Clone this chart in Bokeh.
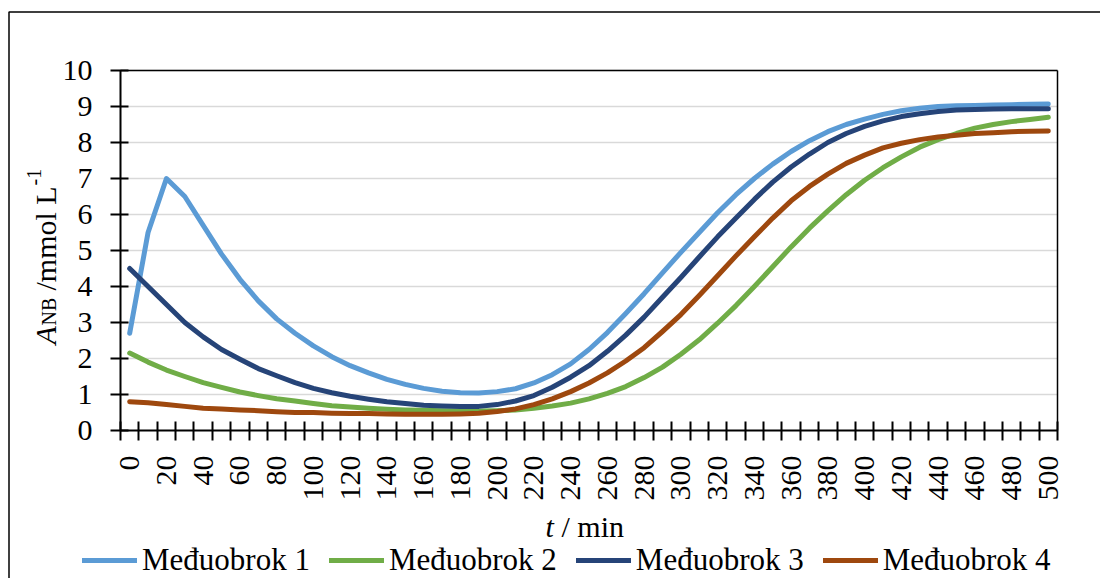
import math
from bokeh.plotting import figure
from bokeh.models import (ColumnDataSource, FixedTicker, Range1d, Legend, LegendItem,
                          Label, BoxAnnotation)
from bokeh.embed import file_html
from bokeh.resources import INLINE

# ---------------- data ----------------
t_min = list(range(0, 510, 10))
x_tick_labels = list(range(0, 520, 20))
y_ticks = list(range(0, 11))

series_names = ["Međuobrok 1", "Međuobrok 2", "Međuobrok 3", "Međuobrok 4"]
series_colors = ["#5B9BD5", "#70AD47", "#264478", "#9E480E"]

medjuobrok_1 = [2.7, 5.5, 7.0, 6.5, 5.7, 4.9, 4.2, 3.6, 3.1, 2.7,
                2.35, 2.05, 1.8, 1.6, 1.42, 1.28, 1.17, 1.09, 1.05, 1.04,
                1.08, 1.16, 1.32, 1.55, 1.85, 2.25, 2.72, 3.25, 3.8, 4.38,
                4.95, 5.5, 6.05, 6.55, 7.0, 7.4, 7.75, 8.05, 8.3, 8.5,
                8.65, 8.78, 8.88, 8.95, 9.0, 9.02, 9.03, 9.04, 9.05, 9.06, 9.07]
medjuobrok_2 = [2.15, 1.9, 1.68, 1.5, 1.33, 1.2, 1.07, 0.97, 0.88, 0.82,
                0.75, 0.69, 0.65, 0.62, 0.59, 0.57, 0.56, 0.55, 0.54, 0.54,
                0.55, 0.57, 0.62, 0.68, 0.76, 0.88, 1.03, 1.22, 1.47, 1.76,
                2.12, 2.52, 2.98, 3.47, 4.0, 4.55, 5.1, 5.62, 6.1, 6.55,
                6.95, 7.3, 7.6, 7.87, 8.08, 8.25, 8.4, 8.5, 8.58, 8.64, 8.7]
medjuobrok_3 = [4.5, 4.0, 3.5, 3.0, 2.6, 2.25, 1.98, 1.72, 1.52, 1.33,
                1.17, 1.05, 0.95, 0.87, 0.8, 0.75, 0.7, 0.68, 0.67, 0.67,
                0.72, 0.82, 0.97, 1.2, 1.48, 1.8, 2.2, 2.65, 3.15, 3.7,
                4.25, 4.82, 5.38, 5.9, 6.42, 6.9, 7.32, 7.68, 8.0, 8.25,
                8.45, 8.6, 8.72, 8.8, 8.86, 8.9, 8.92, 8.93, 8.94, 8.94, 8.94]
medjuobrok_4 = [0.8, 0.77, 0.72, 0.67, 0.62, 0.6, 0.57, 0.55, 0.52, 0.5,
                0.5, 0.48, 0.47, 0.47, 0.46, 0.45, 0.45, 0.45, 0.46, 0.48,
                0.53, 0.6, 0.72, 0.88, 1.08, 1.32, 1.6, 1.93, 2.3, 2.75,
                3.22, 3.75, 4.3, 4.85, 5.38, 5.9, 6.38, 6.78, 7.12, 7.42,
                7.65, 7.85, 7.98, 8.08, 8.15, 8.2, 8.25, 8.27, 8.3, 8.31, 8.32]
series_values = [medjuobrok_1, medjuobrok_2, medjuobrok_3, medjuobrok_4]

FONT = "Liberation Serif"
FS = "30px"
FS_LEG = "31px"
FS_SMALL = "20px"

# ---------------- layout (pixels on the canvas) ----------------
W, H = 1100, 578
PX_LEFT, PX_RIGHT, PX_TOP, PX_BOTTOM = 120, 1057, 70, 430

step = t_min[1] - t_min[0]
x_lo = t_min[0] - step / 2
x_hi = t_min[-1] + step / 2
y_lo, y_hi = y_ticks[0], y_ticks[-1]

upp_x = (x_hi - x_lo) / (PX_RIGHT - PX_LEFT)
upp_y = (y_hi - y_lo) / (PX_BOTTOM - PX_TOP)
x_start = x_lo - PX_LEFT * upp_x
x_end = x_hi + (W - PX_RIGHT) * upp_x
y_start = y_lo - (H - PX_BOTTOM) * upp_y
y_end = y_hi + PX_TOP * upp_y


def px2x(px):
    return x_start + px * upp_x


def py2y(py):
    return y_end - py * upp_y


p = figure(width=W, height=H, output_backend="svg", toolbar_location=None,
           x_range=Range1d(x_start, x_end), y_range=Range1d(y_start, y_end),
           min_border=0, min_border_left=0, min_border_right=0,
           min_border_top=0, min_border_bottom=0)
p.background_fill_color = "white"
p.border_fill_color = "white"
p.outline_line_color = None
p.grid.visible = False

# axes placed at the plot-area edges
p.xaxis.fixed_location = y_lo
p.xaxis.bounds = (x_lo, x_hi)
p.xaxis.ticker = FixedTicker(ticks=x_tick_labels,
                             minor_ticks=[x_lo + step * i for i in range(len(t_min) + 1)])
p.xaxis.major_tick_line_color = None
p.xaxis.minor_tick_line_color = "black"
p.xaxis.minor_tick_line_width = 2
p.xaxis.minor_tick_in = 9
p.xaxis.minor_tick_out = 10
p.xaxis.major_label_orientation = math.pi / 2
p.xaxis.major_label_standoff = 15
p.xaxis.axis_line_color = "black"
p.xaxis.axis_line_width = 2

p.yaxis.fixed_location = x_lo
p.yaxis.bounds = (y_lo, y_hi)
p.yaxis.ticker = FixedTicker(ticks=y_ticks, minor_ticks=[])
p.yaxis.major_tick_line_color = "black"
p.yaxis.major_tick_line_width = 2
p.yaxis.major_tick_in = 8
p.yaxis.major_tick_out = 10
p.yaxis.minor_tick_line_color = None
p.yaxis.major_label_standoff = 18
p.yaxis.axis_line_color = "black"
p.yaxis.axis_line_width = 2

for ax in (p.xaxis, p.yaxis):
    ax.major_label_text_font = FONT
    ax.major_label_text_font_size = FS
    ax.major_label_text_color = "black"

# horizontal gridlines within the plot area
grid_src = ColumnDataSource(dict(y=y_ticks[1:], x0=[x_lo] * (len(y_ticks) - 1),
                                 x1=[x_hi] * (len(y_ticks) - 1)))
p.segment(x0="x0", y0="y", x1="x1", y1="y", source=grid_src,
          line_color="#D9D9D9", line_width=1.5)

# data lines
items = []
for name, color, vals in zip(series_names, series_colors, series_values):
    src = ColumnDataSource(dict(t=t_min, v=vals))
    r = p.line("t", "v", source=src, line_color=color, line_width=5,
               line_cap="round", line_join="round")
    items.append(LegendItem(label=name, renderers=[r]))

# plot-area border (top and right edges)
p.segment(x0=[x_lo, x_hi], y0=[y_hi, y_lo], x1=[x_hi, x_hi], y1=[y_hi, y_hi],
          line_color="black", line_width=1.5)

legend = Legend(items=items, orientation="horizontal", location=(82, H - 578),
                label_text_font=FONT, label_text_font_size=FS_LEG, label_text_color="black",
                glyph_width=55, glyph_height=30, label_height=30, label_standoff=5,
                spacing=19, padding=0, margin=0,
                border_line_color=None, background_fill_alpha=0)
p.add_layout(legend, "center")


def add_text(txt, px, py, fs, style="normal", angle=0.0):
    p.add_layout(Label(x=px2x(px), y=py2y(py), text=txt, angle=angle,
                       text_font=FONT, text_font_size=fs, text_font_style=style,
                       text_color="black", text_baseline="alphabetic",
                       text_align="left"))


# x axis title: "t / min"
add_text("t", 545, 526, FS, "italic")
add_text("/ min", 561, 526, FS)

# y axis title: A_NB /mmol L^-1 (rotated, reads bottom to top)
rot = math.pi / 2
add_text("A", 45, 344, FS, "italic", rot)
add_text("NB", 48, 325, FS_SMALL, "normal", rot)
add_text("/mmol L", 45, 290, FS, "normal", rot)
add_text("-1", 33, 185, FS_SMALL, "normal", rot)

# outer chart border (left and top edges visible)
p.add_layout(BoxAnnotation(left=px2x(8.5), right=px2x(W + 20), top=py2y(11.5),
                           bottom=py2y(H + 20), fill_alpha=0,
                           line_color="black", line_alpha=1.0, line_width=1.5))

open("out.html", "w").write(file_html(p, INLINE))
